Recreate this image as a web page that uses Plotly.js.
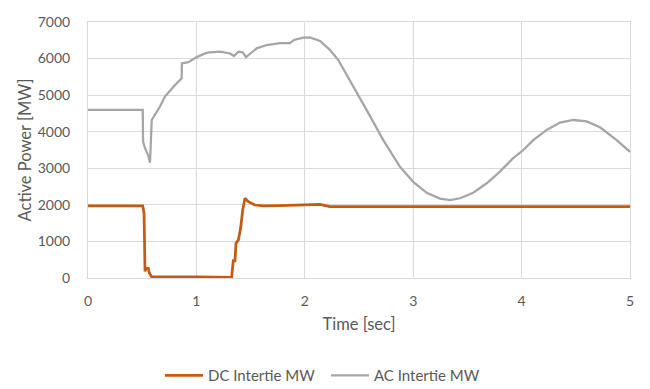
<!DOCTYPE html>
<html>
<head>
<meta charset="utf-8">
<script src="https://cdn.plot.ly/plotly-3.0.1.min.js"></script>
<style>
  html, body { margin: 0; padding: 0; background: #ffffff; }
  #chart { width: 650px; height: 389px; }
</style>
</head>
<body>
<div id="chart"></div>
<script>
// Time [sec] and DC Intertie MW values
const dcTime = [0, 0.505, 0.517, 0.526, 0.535, 0.556, 0.566, 0.587, 1.0, 1.325, 1.34, 1.356, 1.365, 1.387, 1.408, 1.427, 1.448, 1.479, 1.54, 1.617, 1.771, 1.925, 2.048, 2.14, 2.232, 3.0, 4.0, 5.0];
const dcMW   = [1970, 1970, 1770, 180, 265, 265, 128, 35, 30, 20, 473, 470, 948, 1039, 1359, 1859, 2179, 2086, 1996, 1969, 1978, 2000, 2020, 2014, 1955, 1955, 1955, 1955];

// Time [sec] and AC Intertie MW values
const acTime = [0, 0.505, 0.508, 0.526, 0.556, 0.572, 0.588, 0.618, 0.664, 0.71, 0.756, 0.803, 0.864, 0.866, 0.926, 1.003, 1.095, 1.218, 1.31, 1.347, 1.387, 1.427, 1.458, 1.494, 1.556, 1.648, 1.771, 1.863, 1.9, 1.986, 2.048, 2.14, 2.232, 2.309, 2.417, 2.571, 2.724, 2.878, 3.0, 3.125, 3.247, 3.339, 3.432, 3.554, 3.678, 3.80, 3.92, 4.016, 4.108, 4.231, 4.354, 4.477, 4.60, 4.723, 4.877, 5.0];
const acMW   = [4600, 4600, 3730, 3550, 3350, 3150, 4320, 4460, 4690, 4960, 5120, 5280, 5460, 5870, 5900, 6040, 6160, 6190, 6140, 6070, 6190, 6170, 6040, 6120, 6280, 6370, 6420, 6420, 6510, 6570, 6580, 6480, 6240, 5960, 5410, 4590, 3770, 3040, 2630, 2330, 2170, 2130, 2180, 2330, 2590, 2910, 3270, 3500, 3770, 4050, 4250, 4320, 4280, 4120, 3770, 3450];

const seriesNames = ["DC Intertie MW", "AC Intertie MW"];
const xTickVals = [0, 1, 2, 3, 4, 5];
const yTickVals = [0, 1000, 2000, 3000, 4000, 5000, 6000, 7000];

const fontFam = "Lato, 'Open Sans', sans-serif";
const textColor = "#595959";
const gridColor = "#d9d9d9";

const traces = [
  { x: dcTime, y: dcMW, name: seriesNames[0], type: "scatter", mode: "lines",
    line: { color: "#C55A11", width: 2.75 } },
  { x: acTime, y: acMW, name: seriesNames[1], type: "scatter", mode: "lines",
    line: { color: "#A5A5A5", width: 2.25 } }
];

const layout = {
  width: 650, height: 389,
  margin: { l: 88, r: 20, t: 22, b: 111, autoexpand: false },
  paper_bgcolor: "#ffffff", plot_bgcolor: "#ffffff",
  font: { family: fontFam, color: textColor, size: 14 },
  showlegend: true,
  legend: { orientation: "h", x: 0.1328, xanchor: "left", y: -0.381, yanchor: "middle",
            itemwidth: 38, entrywidth: 113,
            font: { family: fontFam, size: 15, color: textColor }, traceorder: "normal" },
  xaxis: {
    range: [0, 5], tickvals: xTickVals, ticktext: xTickVals.map(String),
    showgrid: true, gridcolor: gridColor, gridwidth: 1, zeroline: false,
    showline: true, linecolor: gridColor, linewidth: 1, mirror: true,
    ticks: "", ticklabelstandoff: 10, automargin: false,
    tickfont: { family: fontFam, size: 14, color: textColor },
    title: { text: "Time [sec]", standoff: 10, font: { family: fontFam, size: 16.5, color: textColor } }
  },
  yaxis: {
    range: [0, 7000], tickvals: yTickVals, ticktext: yTickVals.map(String),
    showgrid: true, gridcolor: gridColor, gridwidth: 1, zeroline: false,
    showline: true, linecolor: gridColor, linewidth: 1, mirror: true,
    ticks: "", ticklabelstandoff: 14, automargin: false,
    tickfont: { family: fontFam, size: 14, color: textColor },
    title: { text: "Active Power [MW]", standoff: 1, font: { family: fontFam, size: 16.5, color: textColor } }
  }
};

Plotly.newPlot("chart", traces, layout, { staticPlot: true, displayModeBar: false });
</script>
</body>
</html>
